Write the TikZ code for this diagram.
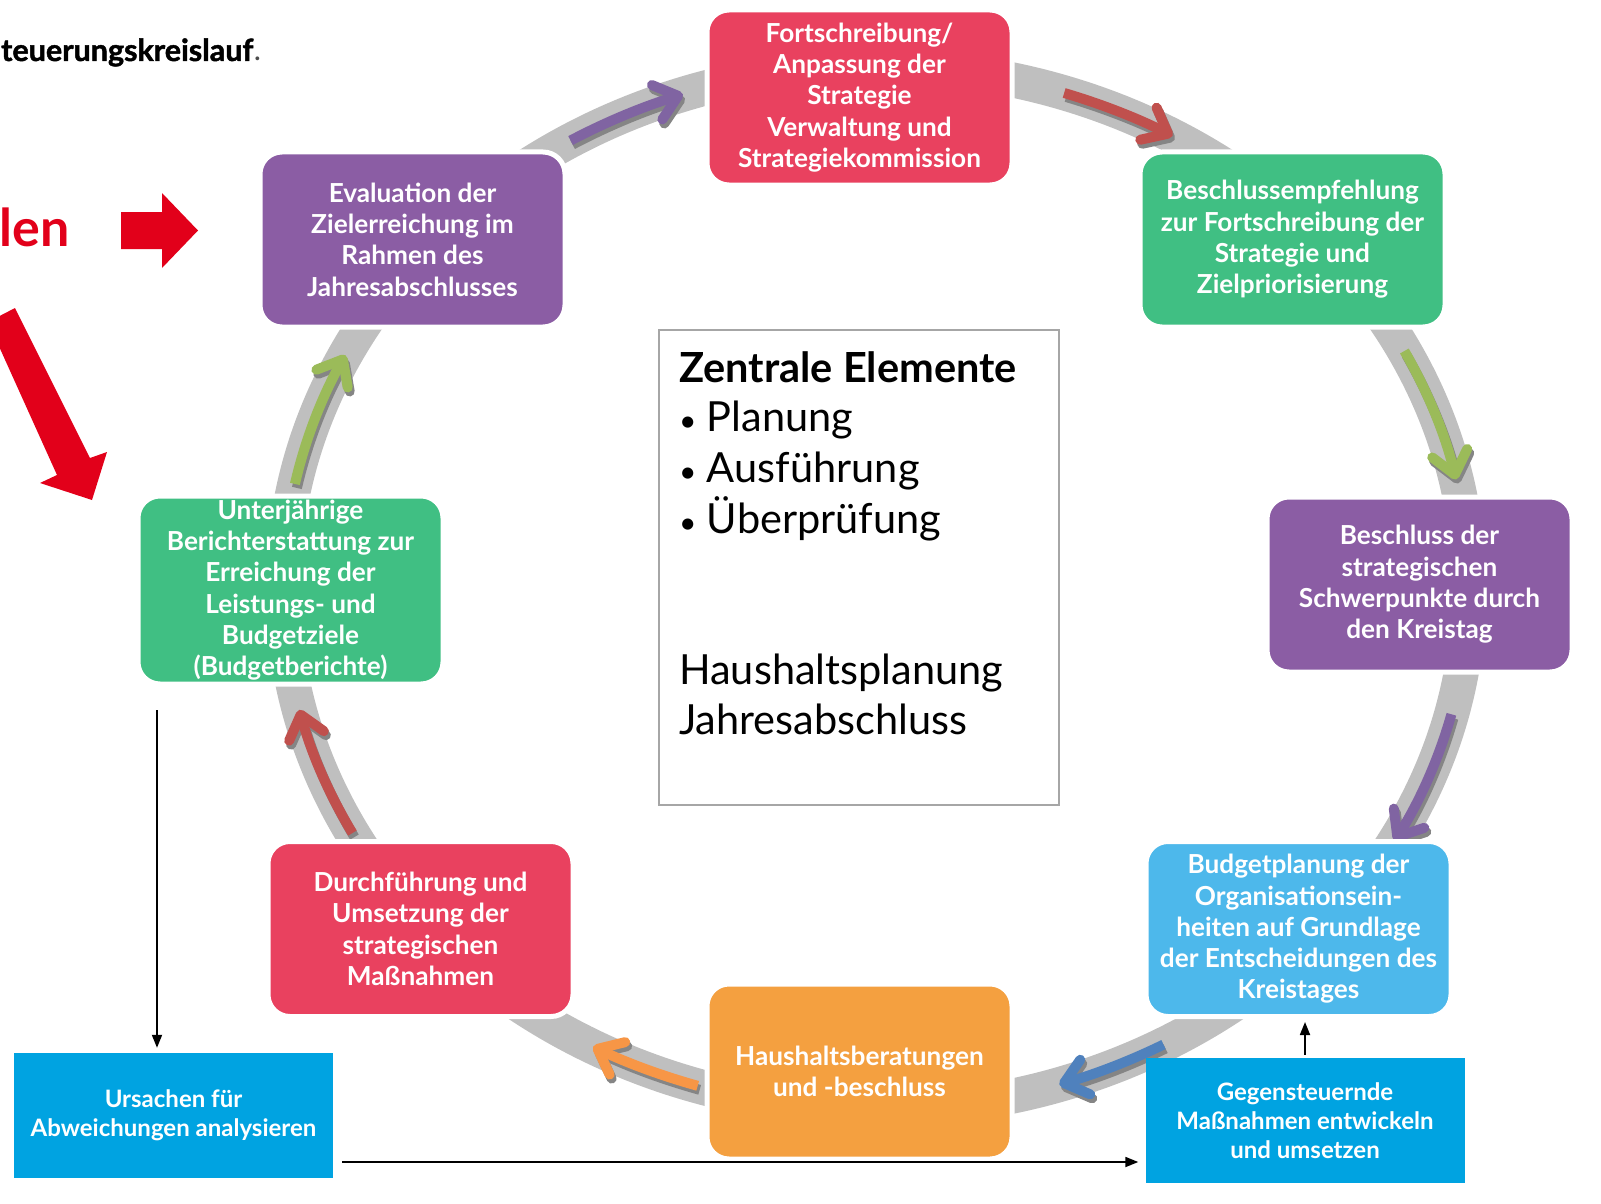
\documentclass[tikz,border=0pt]{standalone}
\usepackage{fontspec}
\setmainfont{Lato}
\newfontfamily\heavyfont{Lato}[BoldFeatures={FakeBold=1.5}]
\usetikzlibrary{arrows.meta}
\definecolor{bxred}{HTML}{E9415F}
\definecolor{bxpurple}{HTML}{8B5DA4}
\definecolor{bxgreen}{HTML}{40BF83}
\definecolor{bxblue}{HTML}{4DB8EB}
\definecolor{bxorange}{HTML}{F4A040}
\definecolor{bxcyan}{HTML}{00A3E1}
\definecolor{ringgray}{HTML}{BFBFBF}
\definecolor{shadowgray}{HTML}{858585}
\definecolor{arpurple}{HTML}{8064A2}
\definecolor{arred}{HTML}{C0504D}
\definecolor{argreen}{HTML}{9BBB59}
\definecolor{arblue}{HTML}{4F81BD}
\definecolor{arorange}{HTML}{F79646}
\definecolor{signalred}{HTML}{E2001A}
\newcommand\cycarrow[3]{%
  \draw[flowarrow, draw=shadowgray, shift={(2,4)}] (876,588) ++(#2:593 and 522)
     arc[start angle=#2, end angle=#3, x radius=593, y radius=522];
  \draw[flowarrow, draw=#1] (876,588) ++(#2:593 and 522)
     arc[start angle=#2, end angle=#3, x radius=593, y radius=522];}
\begin{document}
\begin{tikzpicture}[x=1pt,y=-1pt,
  cbox/.style={rounded corners=22pt, draw=white, line width=5pt,
    minimum width=305pt, minimum height=175pt, inner sep=0pt, text=white,
    align=center, font=\fontsize{26.2}{31.3}\selectfont\bfseries},
  sbox/.style={fill=bxcyan, minimum width=319pt, minimum height=125pt, inner sep=0pt,
    text=white, align=center, font=\fontsize{24}{29}\selectfont\bfseries},
  flowarrow/.style={line width=10pt, -{Straight Barb[length=22pt,width=36pt,round]}},
  conn/.style={line width=1.8pt, -{Triangle[length=13pt,width=10pt]}},
  ctext/.style={anchor=base west, inner sep=0pt, font=\fontsize{41.5}{50}\selectfont},
]
\useasboundingbox (0,0) rectangle (1601,1204);
\clip (0,0) rectangle (1601,1204);

% ring band
\draw[ringgray, line width=35pt] (876,588) ellipse[x radius=593, y radius=522];

% cycle arrows
\cycarrow{arpurple}{-121}{-109}
\cycarrow{arred}{-71.5}{-60}
\cycarrow{argreen}{-27}{-12}
\cycarrow{arpurple}{14}{29}
\cycarrow{arblue}{61}{72}
\cycarrow{arorange}{107.5}{118.5}
\cycarrow{arred}{152}{166.5}
\cycarrow{argreen}{191.5}{206.5}

% cycle boxes
\node[cbox, fill=bxred] (fort) at (859.5,97.5) {Fortschreibung/\\Anpassung der\\Strategie\\Verwaltung und\\Strategiekommission};
\node[cbox, fill=bxgreen] (empf) at (1292.5,239.5) {Beschlussempfehlung\\zur Fortschreibung der\\Strategie und\\Zielpriorisierung};
\node[cbox, fill=bxpurple] (besch) at (1419.5,584.5) {Beschluss der\\strategischen\\Schwerpunkte durch\\den Kreistag};
\node[cbox, fill=bxblue] (budget) at (1298.5,929) {Budgetplanung der\\Organisationsein-\\heiten auf Grundlage\\der Entscheidungen des\\Kreistages};
\node[cbox, fill=bxorange] (haus) at (859.5,1071.5) {Haushaltsberatungen\\und -beschluss};
\node[cbox, fill=bxred] (durch) at (420.5,929) {Durchführung und\\Umsetzung der\\strategischen\\Maßnahmen};
\node[cbox, fill=bxgreen, minimum height=188pt] (unter) at (290.5,590) {Unterjährige\\Berichterstattung zur\\Erreichung der\\Leistungs- und\\Budgetziele\\(Budgetberichte)};
\node[cbox, fill=bxpurple] (eval) at (412.5,239.5) {Evaluation der\\Zielerreichung im\\Rahmen des\\Jahresabschlusses};

% centre box
\node[draw=black!35, line width=2pt, minimum width=400pt, minimum height=475pt, inner sep=0pt] (zentral) at (859,567.5) {};
\node[ctext, font=\fontsize{41.5}{50}\selectfont\bfseries] (zt) at (679,382) {Zentrale Elemente};
\node[ctext] (z1) at (679,431) {{\fontsize{30}{30}\selectfont•}\hspace{0.25em}Planung};
\node[ctext] (z2) at (679,482) {{\fontsize{30}{30}\selectfont•}\hspace{0.25em}Ausführung};
\node[ctext] (z3) at (679,533) {{\fontsize{30}{30}\selectfont•}\hspace{0.25em}Überprüfung};
\node[ctext] (z4) at (679,684) {Haushaltsplanung};
\node[ctext] (z5) at (679,734) {Jahresabschluss};

% bottom boxes
\node[sbox] (urs) at (173.5,1115.5) {Ursachen für\\Abweichungen analysieren};
\node[sbox] (gegen) at (1305,1120.5) {Gegensteuernde\\Maßnahmen entwickeln\\und umsetzen};

% connectors
\coordinate (v1) at (157,710);
\coordinate (h1) at (342,1162);
\draw[conn, shorten >=5pt] (v1) -- (v1 |- urs.north);
\draw[conn, shorten >=7pt] (h1) -- (gegen.west |- h1);
\draw[conn, shorten <=3pt, shorten >=3pt] (gegen.north) -- (gegen.north |- budget.south);

% slide elements at the left
\node[anchor=base west, inner sep=0pt, font=\fontsize{30.5}{36}\selectfont\heavyfont\bfseries] (title) at (1,61) {teuerungskreislauf};
\node[anchor=base west, inner sep=0pt, font=\fontsize{30.5}{36}\selectfont, text=black!70] (titledot) at (title.base east) {.};
\node[anchor=base east, inner sep=0pt, text=signalred, font=\fontsize{52}{60}\selectfont\bfseries] (len) at (70,246) {len};
\fill[signalred] (121,212) -- (162,212) -- (162,193) -- (198,230.5) -- (162,268) -- (162,249) -- (121,249) -- cycle;
\fill[signalred] (-12,322) -- (15,308) -- (90,458) -- (107,452) -- (92,500) -- (40,483) -- (57,475) -- cycle;
\end{tikzpicture}
\end{document}
